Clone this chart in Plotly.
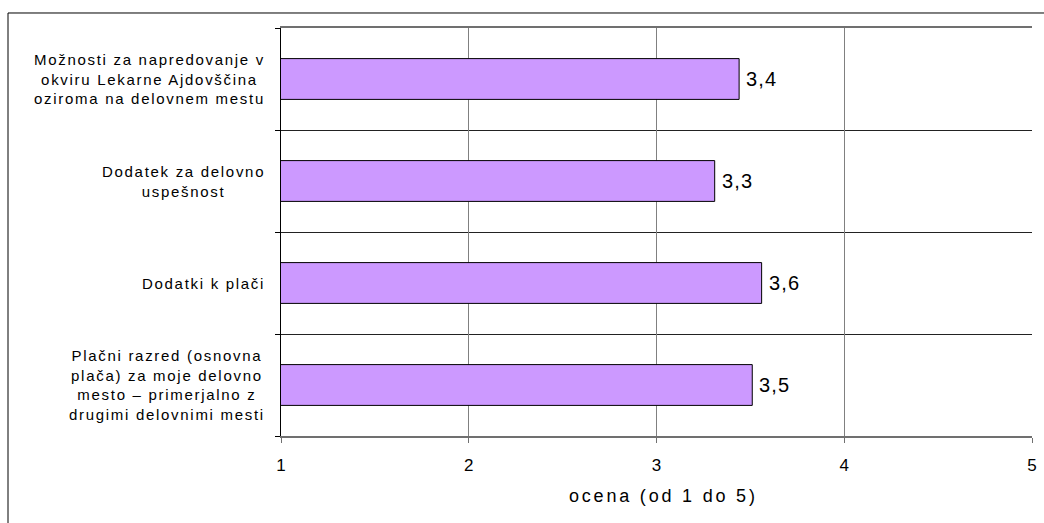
import plotly.graph_objects as go

categories = [
    ["Možnosti za napredovanje v", "okviru Lekarne Ajdovščina", "oziroma na delovnem mestu"],
    ["Dodatek za delovno", "uspešnost"],
    ["Dodatki k plači"],
    ["Plačni razred (osnovna", "plača) za moje delovno", "mesto – primerjalno z", "drugimi delovnimi mesti"],
]
values = [3.44, 3.31, 3.56, 3.51]
x_ticks = [1, 2, 3, 4, 5]
x_title = "ocena (od 1 do 5)"

FONT = "Liberation Sans, Arial, sans-serif"

def spaced(s, ls):
    return f'<span style="letter-spacing:{ls}px">{s}</span>'

ypos = list(range(len(categories)))

fig = go.Figure()
fig.add_trace(go.Bar(
    x=values, y=ypos, orientation="h", width=0.4,
    marker=dict(color="#CC99FF", line=dict(color="#000000", width=1)),
    hoverinfo="skip",
))

annotations = []
for i, lines in enumerate(categories):
    annotations.append(dict(
        xref="paper", yref="y", x=0, y=i, xanchor="right", yanchor="middle",
        xshift=-14, align="center", showarrow=False,
        text="<br>".join(spaced(l, 1.7) for l in lines),
        font=dict(family=FONT, size=15, color="#000000"),
    ))
for i, v in enumerate(values):
    annotations.append(dict(
        xref="x", yref="y", x=v, y=i, xanchor="left", yanchor="middle",
        xshift=5, showarrow=False,
        text=spaced(f"{v:.1f}".replace(".", ","), 1.2),
        font=dict(family=FONT, size=20, color="#000000"),
    ))
annotations.append(dict(
    xref="paper", yref="paper", x=0.5, y=0, xanchor="center", yanchor="middle",
    yshift=-60, xshift=7, showarrow=False, text=spaced(x_title, 2.8),
    font=dict(family=FONT, size=18, color="#000000"),
))

fig.update_layout(
    width=1044, height=523, autosize=False,
    margin=dict(l=281, r=12, t=28, b=87, autoexpand=False),
    paper_bgcolor="white", plot_bgcolor="white",
    showlegend=False, annotations=annotations,
    xaxis=dict(
        range=[1, 5], tickvals=x_ticks, ticktext=[str(t) for t in x_ticks],
        showgrid=True, gridcolor="#808080", gridwidth=1,
        showline=True, linecolor="#707070", linewidth=2, mirror=True,
        ticks="outside", ticklen=5, tickcolor="#707070",
        ticklabelstandoff=8, automargin=False,
        tickfont=dict(family=FONT, size=17, color="#000000"),
        zeroline=False, fixedrange=True,
    ),
    yaxis=dict(
        range=[3.5, -0.5], showticklabels=False, showgrid=False, zeroline=False,
        showline=True, linecolor="#000000", linewidth=1,
        ticks="", tickvals=ypos, automargin=False,
        minor=dict(tickvals=[-0.5, 0.5, 1.5, 2.5, 3.5], showgrid=True, gridcolor="#222222",
                   gridwidth=1, ticks="outside", ticklen=5, tickcolor="#000000"),
        fixedrange=True,
    ),
    shapes=[dict(type="rect", xref="paper", yref="paper",
                 x0=-0.3635, x1=1.05, y0=-0.25, y1=1.0368,
                 line=dict(color="#000000", width=1), layer="below")],
)

fig.write_html("out.html", config={"displayModeBar": False},
               post_script="document.body.style.margin='0';document.body.style.overflow='hidden';")
